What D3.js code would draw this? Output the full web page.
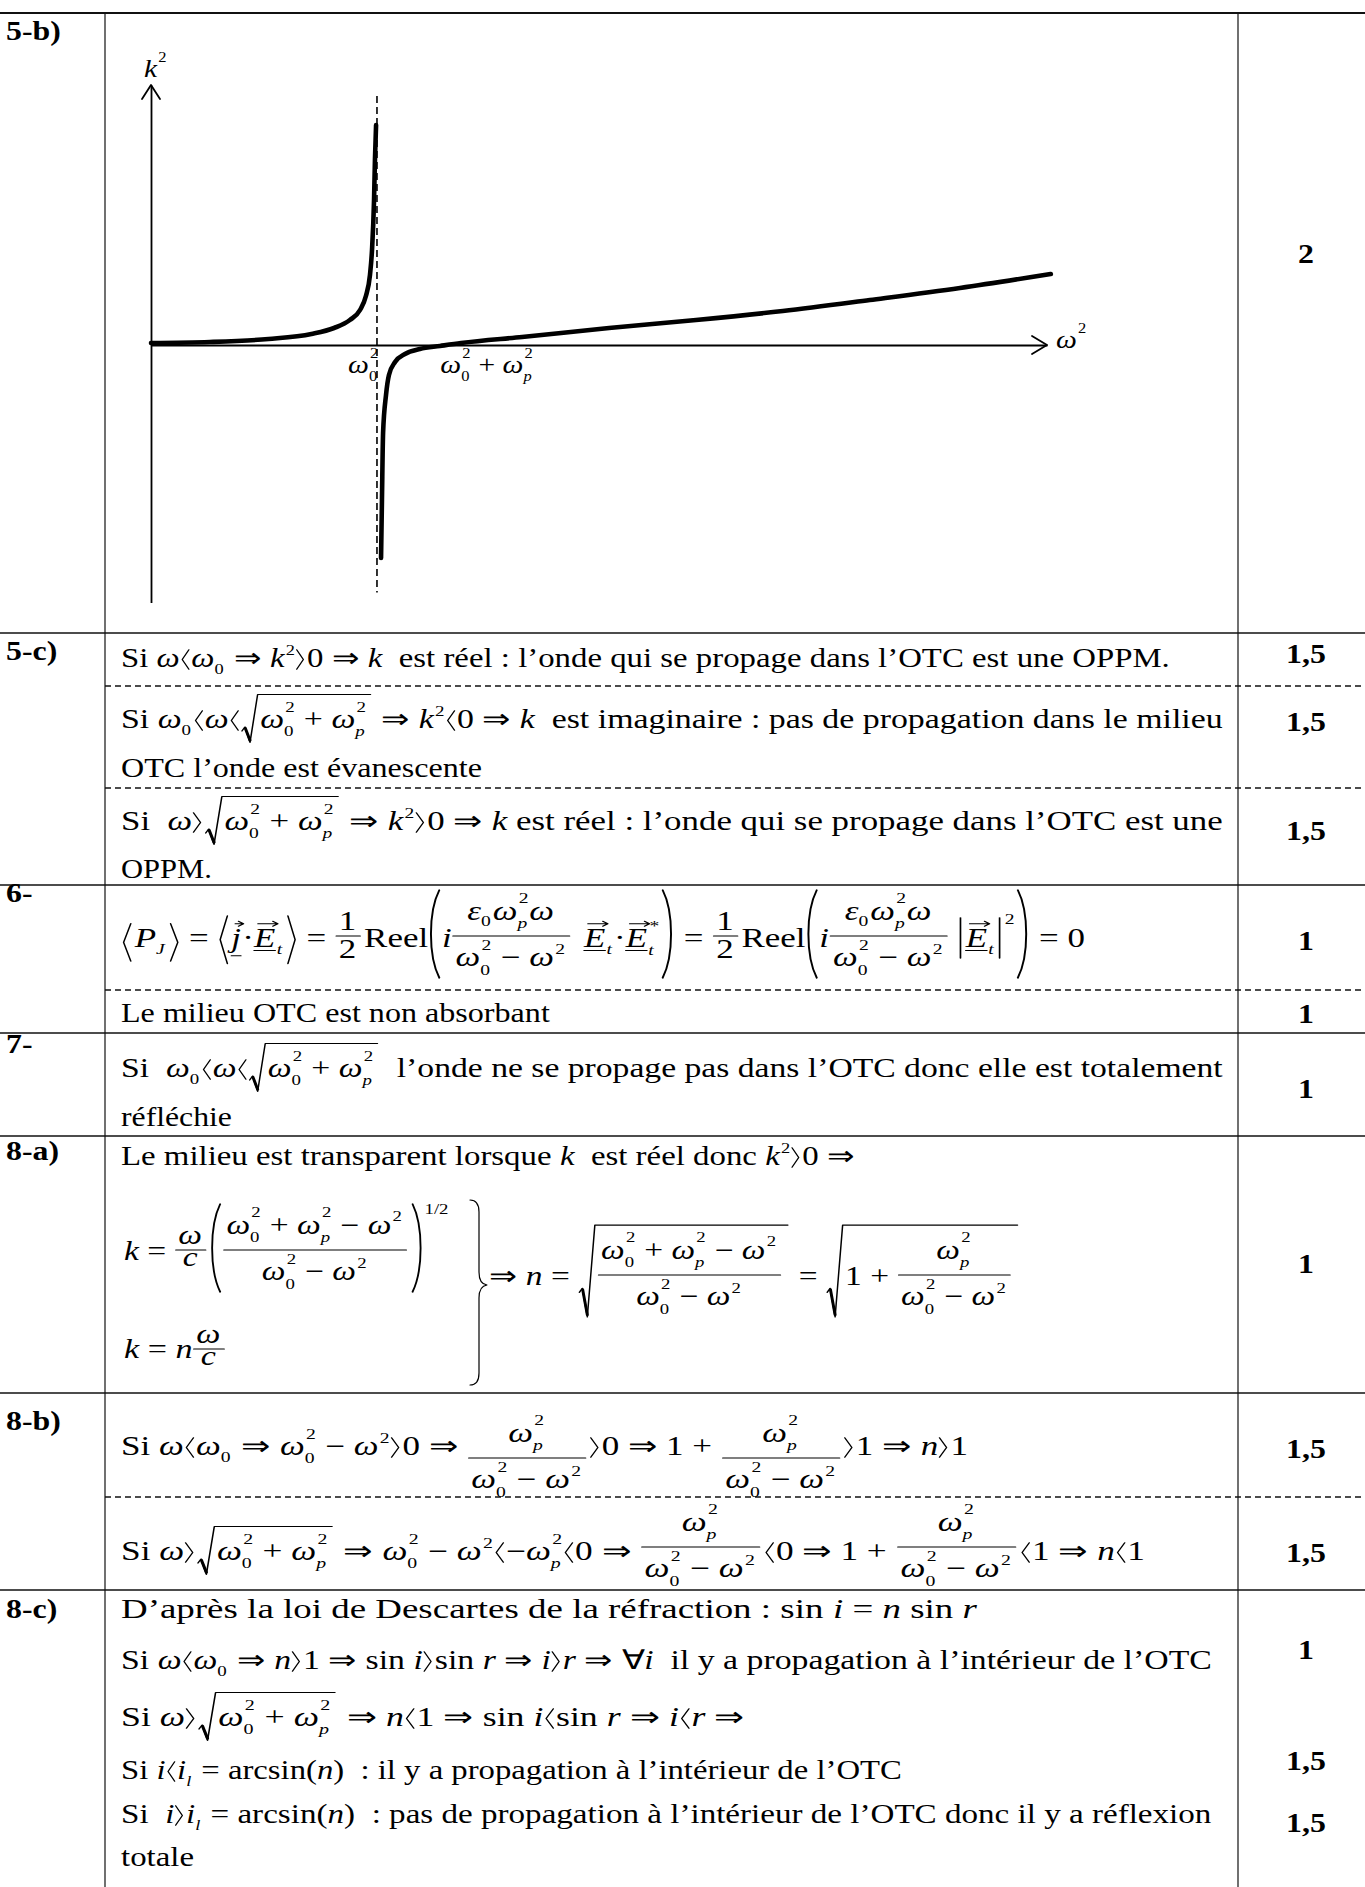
<!DOCTYPE html>
<html><head><meta charset="utf-8">
<script src="https://cdn.jsdelivr.net/npm/d3@7"></script>
<style>
html,body{margin:0;padding:0;background:#fff;}
svg{display:block;}
svg text{font-family:'Liberation Serif','Times New Roman',Tinos,Times,serif;fill:#000;white-space:pre;}
</style></head><body>
<svg id="page" width="1365" height="1887" font-family="'Liberation Serif','Times New Roman',Tinos,Times,serif"></svg>
<script>
// ================= DATA =================
// k^2 versus omega^2 (x in units of omega0^2, y in arbitrary units)
const upperOmega2 = [0, 0.26, 0.52, 0.71, 0.81, 0.88, 0.925, 0.951, 0.969, 0.978, 0.987, 0.991, 0.996];
const upperK2     = [0.04, 0.06, 0.12, 0.22, 0.34, 0.5, 0.7, 0.98, 1.4, 1.9, 2.9, 3.7, 4.4];
const lowerOmega2 = [1.018, 1.022, 1.027, 1.04, 1.053, 1.08, 1.124, 1.19, 1.279, 1.372, 1.642, 2.027, 2.412, 2.796, 3.181, 3.58, 3.982];
const lowerK2     = [-4.26, -3.1, -1.76, -1.0, -0.6, -0.34, -0.18, -0.08, -0.02, 0.04, 0.16, 0.34, 0.5, 0.68, 0.9, 1.14, 1.42];
const xTickValues = [1, 1.36];               // omega0^2 , omega0^2 + omegap^2
const xAxisMax = 3.965, yAxisMin = -5.15, yAxisMax = 5.2;
const asymptoteK2 = [-4.95, 4.98];
const rowLabels = ["5-b)", "5-c)", "6-", "7-", "8-a)", "8-b)", "8-c)"];
const scores = ["2", "1,5", "1,5", "1,5", "1", "1", "1", "1", "1,5", "1,5", "1", "1,5", "1,5"];

// ================= ENGINE =================
const FONT = "'Liberation Serif','Times New Roman',Tinos,Times,serif";
const FS = 27, SX = 1.18;
const svg = d3.select('#page');
const root = svg.append('g');

function txt(g, s, x, y, fs, o = {}) {
  const t = g.append('text').attr('x', x).attr('y', y).attr('font-size', fs)
    .attr('font-family', FONT).text(s);
  if (o.it) t.attr('font-style', 'italic');
  if (o.bold) t.attr('font-weight', 'bold');
  if (o.anchor) t.attr('text-anchor', o.anchor);
  return t.node().getComputedTextLength();
}
function path(g, d, sw) {
  g.append('path').attr('d', d).attr('fill', 'none').attr('stroke', '#000')
    .attr('stroke-width', sw || 1.2).attr('stroke-linejoin', 'round').attr('stroke-linecap', 'round');
}
function render(parent, items, fs, ax) {
  const g = parent.append('g');
  let x = 0, top = -0.46 * fs, bot = 0;
  const ext = (t, b) => { if (t < top) top = t; if (b > bot) bot = b; };
  const S = 0.56 * fs;
  for (const it of items) {
    if (typeof it === 'string') {
      for (const part of it.split(/([⟨⟩])/)) {
        if (!part) continue;
        if (part === '⟨' || part === '⟩') {
          const aw = 0.24 * fs, t = -0.64 * fs, b = 0.08 * fs, m = (t + b) / 2;
          path(g, part === '⟨' ? `M${x+aw+1},${t}L${x+2},${m}L${x+aw+1},${b}` : `M${x+1},${t}L${x+aw},${m}L${x+1},${b}`, 1.1);
          x += aw + 3; ext(t, b);
        } else {
          x += txt(g, part, x, 0, fs);
          ext(/[A-Z0-9ldbfhkt’'()éèà∀⇒]/.test(part) ? -0.68 * fs : -0.46 * fs, /[gjpqy(),;]/.test(part) ? 0.22 * fs : 0.02 * fs);
        }
      }
    } else if (it.i !== undefined) {
      x += txt(g, it.i, x, 0, fs, { it: 1 }) + (it.k || 0);
      ext(/[A-Zkldbfhti]/.test(it.i) ? -0.68 * fs : -0.46 * fs, /[jpqgy]/.test(it.i) ? 0.22 * fs : 0.02 * fs);
    } else if (it.sp !== undefined) {
      x += it.sp * fs;
    } else if (it.ss) {
      const sb = it.ss[0], sp = it.ss[1], both = sb != null && sp != null;
      let w = 0;
      if (sp != null) { const yy = it.sy != null ? it.sy * fs : (both ? -0.6 : -0.45) * fs; w = Math.max(w, txt(g, sp, x + 1, yy, S)); ext(yy - 0.68 * S, 0); }
      if (sb != null) { const yy = (both ? 0.3 : 0.25) * fs; w = Math.max(w, txt(g, sb, x, yy, S, { it: /[a-zA-Z]/.test(sb) })); ext(0, yy + (/[pjqgy]/.test(sb) ? 0.22 : 0.02) * S); }
      x += w + 1.5;
    } else if (it.f) {
      const a = ax;
      const n = render(g, it.f[0], fs, ax), d = render(g, it.f[1], fs, ax);
      const w = Math.max(n.w, d.w) + 6;
      const nb = a - 5 - n.bot, db = a + 4 - d.top;
      n.g.attr('transform', `translate(${x + 3 + (w - 6 - n.w) / 2},${nb})`);
      d.g.attr('transform', `translate(${x + 3 + (w - 6 - d.w) / 2},${db})`);
      path(g, `M${x + 1},${a}H${x + w}`, 1.2);
      ext(nb + n.top, db + d.bot);
      x += w + 3;
    } else if (it.r) {
      const c = render(g, it.r, fs, ax);
      const t = c.top - 7, b = c.bot + 3, rw = 0.5 * fs;
      const m = b - (b - t) * 0.3;
      path(g, `M${x+1},${m+3}L${x+rw*0.25},${m-1}L${x+rw*0.55},${b}L${x+rw},${t}H${x+rw+c.w+5}`, 1.2);
      path(g, `M${x+rw*0.27},${m}L${x+rw*0.55},${b-2}`, 2.4);
      c.g.attr('transform', `translate(${x + rw + 2},0)`);
      ext(t - 1, b);
      x += rw + c.w + 7;
    } else if (it.p) {
      const c = render(g, it.p, fs, ax);
      const t = c.top - 3, b = c.bot + 3, pw = 0.32 * fs, h = b - t;
      path(g, `M${x+pw},${t}C${x},${t+h*0.25} ${x},${b-h*0.25} ${x+pw},${b}`, 1.5);
      c.g.attr('transform', `translate(${x + pw + 2},0)`);
      const x2 = x + pw + 2 + c.w + 2;
      path(g, `M${x2},${t}C${x2+pw},${t+h*0.25} ${x2+pw},${b-h*0.25} ${x2},${b}`, 1.5);
      x = x2 + pw + 1;
      if (it.sup) x += txt(g, it.sup, x, t + 0.35 * fs, S) + 2;
      ext(t, b);
    } else if (it.ang) {
      const c = render(g, it.ang, fs, ax);
      const t = c.top - 5, b = c.bot + 7, aw = 0.28 * fs, m = (t + b) / 2;
      path(g, `M${x+aw},${t}L${x+2},${m}L${x+aw},${b}`, 1.2);
      c.g.attr('transform', `translate(${x + aw + 3},0)`);
      const x2 = x + aw + 3 + c.w + 3;
      path(g, `M${x2},${t}L${x2+aw-2},${m}L${x2},${b}`, 1.2);
      x = x2 + aw; ext(t, b);
    } else if (it.bar) {
      const c = render(g, it.bar, fs, ax);
      const t = c.top - 3, b = c.bot + 4;
      path(g, `M${x+2},${t}V${b}`, 1.3);
      c.g.attr('transform', `translate(${x + 6},0)`);
      const x2 = x + 6 + c.w + 3;
      path(g, `M${x2},${t}V${b}`, 1.3);
      x = x2 + 3; ext(t, b);
    } else if (it.v) {
      const w = txt(g, it.v, x, 0, fs, { it: 1 });
      const ay = -0.86 * fs;
      path(g, `M${x+3},${ay}H${x+w+2}M${x+w-2},${ay-2.5}L${x+w+2},${ay}L${x+w-2},${ay+2.5}`, 1.0);
      const uy = (it.uy || 0.13) * fs;
      path(g, `M${x},${uy}H${x+w}`, 1.0);
      ext(ay - 3, uy + 1);
      x += w + 1;
    }
  }
  return { g, w: x, top, bot };
}
function line(parent, items, x0, y, right, o = {}) {
  const g = parent.append('g');
  const fs = o.fs || FS;
  const r = render(g, items, fs, o.ax != null ? o.ax : -0.42 * fs);
  let sx = right ? (right - x0) / r.w : SX;
  sx = Math.max(0.9, Math.min(1.45, sx));
  const tx = o.anchorEnd ? x0 - r.w * sx : x0;
  g.attr('transform', `translate(${tx},${y}) scale(${sx},1)`);
  return r;
}
function label(str, x, y, o = {}) {
  const g = root.append('g').attr('transform', `translate(${x},${y}) scale(${SX},1)`);
  txt(g, str, 0, 0, o.fs || FS, { bold: 1, anchor: o.anchor });
}

// ================= TABLE GRID =================
const solidY = [13, 633, 885, 1033, 1136, 1393, 1590];
const dashedY = [686, 788, 990, 1497];
const grid = root.append('g').attr('stroke', '#111');
solidY.forEach((y, i) => grid.append('line').attr('x1', 0).attr('x2', 1365).attr('y1', y).attr('y2', y).attr('stroke-width', i === 0 ? 2 : 1.6));
dashedY.forEach(y => grid.append('line').attr('x1', 105).attr('x2', 1365).attr('y1', y).attr('y2', y).attr('stroke-width', 1.3).attr('stroke-dasharray', '6,4'));
[105, 1238].forEach(x => grid.append('line').attr('x1', x).attr('x2', x).attr('y1', 13).attr('y2', 1887).attr('stroke-width', 1.2));

// ================= ROW LABELS & SCORES =================
const labelY = [40, 660, 902, 1053, 1160, 1430, 1618];
rowLabels.forEach((s, i) => label(s, 6, labelY[i]));
const scoreY = [263, 663, 731, 840, 950, 1023, 1098, 1273, 1458, 1562, 1659, 1770, 1832];
scores.forEach((s, i) => label(s, 1306, scoreY[i], { anchor: 'middle' }));

// ================= CHART (5-b) =================
const xs = d3.scaleLinear().domain([0, xAxisMax]).range([151, 1047]);
const ys = d3.scaleLinear().domain([yAxisMin, yAxisMax]).range([602.5, 85]);
const chart = root.append('g');
chart.append('g').attr('transform', `translate(0,${ys(0)})`)
  .call(d3.axisBottom(xs).tickValues(xTickValues).tickSize(0).tickFormat(() => ''))
  .call(g => g.select('.domain').attr('stroke', '#000').attr('stroke-width', 1.8));
chart.append('g').attr('transform', `translate(${xs(0)},0)`)
  .call(d3.axisLeft(ys).tickValues([]).tickSizeOuter(0))
  .call(g => g.select('.domain').attr('stroke', '#000').attr('stroke-width', 1.8));
// arrows
path(chart, `M${xs(0)-9},${ys(yAxisMax)+14}L${xs(0)},${ys(yAxisMax)}L${xs(0)+9},${ys(yAxisMax)+14}`, 1.8);
path(chart, `M${xs(xAxisMax)-15},${ys(0)-9}L${xs(xAxisMax)},${ys(0)}L${xs(xAxisMax)-15},${ys(0)+9}`, 1.8);
// asymptote
chart.append('line').attr('x1', xs(xTickValues[0])).attr('x2', xs(xTickValues[0]))
  .attr('y1', ys(asymptoteK2[1])).attr('y2', ys(asymptoteK2[0]))
  .attr('stroke', '#000').attr('stroke-width', 1.6).attr('stroke-dasharray', '7,4');
// curves
const lineGen = d3.line().x(d => xs(d[0])).y(d => ys(d[1])).curve(d3.curveMonotoneX);
[[upperOmega2, upperK2], [lowerOmega2, lowerK2]].forEach(([a, b]) => {
  chart.append('path').datum(d3.zip(a, b)).attr('d', lineGen)
    .attr('fill', 'none').attr('stroke', '#000').attr('stroke-width', 4.6).attr('stroke-linecap', 'round');
});
// chart labels
const W02 = [{ i: 'ω' }, { ss: ['0', '2'] }];
const WP2 = [{ i: 'ω' }, { ss: ['p', '2'] }];
const xTickLabels = [W02, [...W02, ' + ', ...WP2]];
line(chart, xTickLabels[0], xs(xTickValues[0]) + 2, 373, null, { fs: 25, anchorEnd: true });
line(chart, xTickLabels[1], xs(xTickValues[1]) - 18, 373, null, { fs: 25 });
line(chart, [{ i: 'ω' }, { ss: [null, '2'], sy: -0.6 }], xs(xAxisMax) + 9, 348, null, { fs: 25 });
line(chart, [{ i: 'k' }, { ss: [null, '2'], sy: -0.6 }], 144, 77, null, { fs: 25 });

// ================= TEXT CONTENT =================
const w = { i: 'ω' };
const w0 = [w, { ss: ['0'] }];
const w02 = [w, { ss: ['0', '2'] }];
const wp2 = [w, { ss: ['p', '2'] }];
const wsq = [w, { ss: [null, '2'] }];
const k2 = [{ i: 'k' }, { ss: [null, '2'] }];
const sqrtW = { r: [...w02, ' + ', ...wp2] };
const den = [...w02, ' − ', ...wsq];
const fracP = { f: [[...wp2], den] };
const X0 = 121;
const T = root.append('g');

// 5-c
line(T, ['Si ', w, '⟨', ...w0, ' ⇒ ', ...k2, '⟩0 ⇒ ', { i: 'k' }, '  est réel : l’onde qui se propage dans l’OTC est une OPPM.'], X0, 667, 1170);
line(T, ['Si ', ...w0, '⟨', w, '⟨', sqrtW, ' ⇒ ', ...k2, '⟨0 ⇒ ', { i: 'k' }, '  est imaginaire : pas de propagation dans le milieu'], X0, 728, 1223);
line(T, ['OTC l’onde est évanescente'], X0, 777, 482);
line(T, ['Si  ', w, '⟩', sqrtW, ' ⇒ ', ...k2, '⟩0 ⇒ ', { i: 'k' }, ' est réel : l’onde qui se propage dans l’OTC est une'], X0, 830, 1223);
line(T, ['OPPM.'], X0, 878, 212);

// 6-
const frHalf = { f: [['1'], ['2']] };
const frEps = { f: [[{ i: 'ε' }, { ss: ['0'] }, ...wp2, w], den] };
const Et = [{ v: 'E' }, { ss: ['t'] }];
line(T, [
  { ang: [{ i: 'P' }, { ss: ['J'] }] }, ' = ',
  { ang: [{ v: 'j', uy: 0.32 }, '·', ...Et] }, ' = ', frHalf, 'Reel',
  { p: [{ i: 'i' }, frEps, { sp: 0.3 }, ...Et, '·', { v: 'E' }, { ss: ['t', '*'] }] }, ' = ', frHalf, 'Reel',
  { p: [{ i: 'i' }, frEps, { sp: 0.2 }, { bar: Et }, { ss: [null, '2'], sy: -0.85 }] }, ' = 0'
], X0, 947, 1085, { ax: -11 });
line(T, ['Le milieu OTC est non absorbant'], X0, 1022, 550);

// 7-
line(T, ['Si  ', ...w0, '⟨', w, '⟨', sqrtW, '  l’onde ne se propage pas dans l’OTC donc elle est totalement'], X0, 1077, 1223);
line(T, ['réfléchie'], X0, 1126, 232);

// 8-a
line(T, ['Le milieu est transparent lorsque ', { i: 'k' }, '  est réel donc ', ...k2, '⟩0 ⇒'], X0, 1165, 855);
const bigFrac = { f: [[...w02, ' + ', ...wp2, ' − ', ...wsq], den] };
line(T, [{ i: 'k' }, ' = ', { f: [[w], [{ i: 'c' }]] }, { p: [bigFrac], sup: '1/2' }], 124, 1260, 451, { ax: -10 });
line(T, [{ i: 'k' }, ' = ', { i: 'n' }, { f: [[w], [{ i: 'c' }]] }], 124, 1358, 228, { ax: -9 });
path(T, 'M470,1200Q479,1200 479,1212V1272Q479,1284 487,1285Q479,1286 479,1298V1373Q479,1385 470,1385', 1.2);
line(T, ['⇒ ', { i: 'n' }, ' = ', { r: [bigFrac] }, ' = ', { r: ['1 + ', fracP] }], 489, 1285, 1020, { ax: -10 });

// 8-b
line(T, ['Si ', w, '⟨', ...w0, ' ⇒ ', ...w02, ' − ', ...wsq, '⟩0 ⇒ ', fracP, '⟩0 ⇒ 1 + ', fracP, '⟩1 ⇒ ', { i: 'n' }, '⟩1'], X0, 1455, 968, { ax: 3 });
line(T, ['Si ', w, '⟩', sqrtW, ' ⇒ ', ...w02, ' − ', ...wsq, '⟨−', ...wp2, '⟨0 ⇒ ', fracP, '⟨0 ⇒ 1 + ', fracP, '⟨1 ⇒ ', { i: 'n' }, '⟨1'], X0, 1560, 1145, { ax: -13 });

// 8-c
line(T, ['D’après la loi de Descartes de la réfraction : sin ', { i: 'i' }, ' = ', { i: 'n' }, ' sin ', { i: 'r' }], X0, 1618, 977);
line(T, ['Si ', w, '⟨', ...w0, ' ⇒ ', { i: 'n' }, '⟩1 ⇒ sin ', { i: 'i' }, '⟩sin ', { i: 'r' }, ' ⇒ ', { i: 'i' }, '⟩', { i: 'r' }, ' ⇒ ∀', { i: 'i' }, '  il y a propagation à l’intérieur de l’OTC'], X0, 1669, 1212);
line(T, ['Si ', w, '⟩', sqrtW, ' ⇒ ', { i: 'n' }, '⟨1 ⇒ sin ', { i: 'i' }, '⟨sin ', { i: 'r' }, ' ⇒ ', { i: 'i' }, '⟨', { i: 'r' }, ' ⇒'], X0, 1726, 745);
line(T, ['Si ', { i: 'i' }, '⟨', { i: 'i' }, { ss: ['l'] }, ' = arcsin(', { i: 'n' }, ')  : il y a propagation à l’intérieur de l’OTC'], X0, 1779, 902);
line(T, ['Si  ', { i: 'i' }, '⟩', { i: 'i' }, { ss: ['l'] }, ' = arcsin(', { i: 'n' }, ')  : pas de propagation à l’intérieur de l’OTC donc il y a réflexion'], X0, 1823, 1212);
line(T, ['totale'], X0, 1866, 194);
</script>
</body></html>
